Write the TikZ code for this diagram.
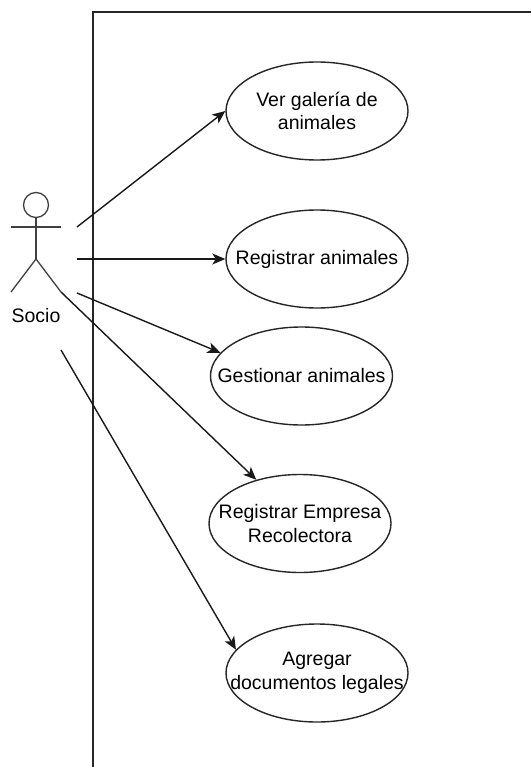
\documentclass[tikz,border=0pt]{standalone}
\usepackage{fontspec}
\setmainfont{Liberation Sans}
\usetikzlibrary{shapes.geometric,arrows.meta}
\begin{document}
\begin{tikzpicture}[x=1pt,y=-1pt,
  usecase/.style={ellipse,draw=black!85,line width=1.4pt,minimum width=182pt,minimum height=98pt,inner xsep=-30pt,inner ysep=0pt,align=center,font=\fontsize{19.5}{23.4}\selectfont},
  assoc/.style={draw=black!90,line width=1.4pt,-{Stealth[length=13pt,width=11pt,inset=3.5pt]}},
  actorline/.style={draw=black!75,line width=1.3pt},
  frame/.style={draw=black!85,line width=2pt}]
\useasboundingbox (0,0) rectangle (531,767);
% system boundary
\draw[frame] (93,767) -- (93,12) -- (531,12);
% actor
\draw[actorline] (36,205) circle (12.5pt);
\draw[actorline] (36,217.5) -- (36,259);
\draw[actorline] (11,227) -- (61,227);
\draw[actorline] (11,292) -- (36,259) -- (61,292);
\node[font=\fontsize{19.5}{23.4}\selectfont] (socio) at (36,316) {Socio};
\coordinate (s1) at (77,227);
\coordinate (s2) at (77,259);
\coordinate (s3) at (77,293);
\coordinate (s4) at (61,292);
\coordinate (s5) at (61,350);
% use cases
\node[usecase] (uc1) at (317,111) {Ver galería de\\animales};
\node[usecase] (uc2) at (317,259) {Registrar animales};
\node[usecase] (uc3) at (301.5,376) {Gestionar animales};
\node[usecase] (uc4) at (300,523.5) {Registrar Empresa\\Recolectora};
\node[usecase] (uc5) at (317,673) {Agregar\\documentos legales};
% associations
\draw[assoc] (s1) -- (uc1.west);
\draw[assoc] (s2) -- (uc2.west);
\draw[assoc] (s3) -- (uc3.164);
\draw[assoc] (s4) -- (uc4.135);
\draw[assoc] (s5) -- (uc5.164);
\end{tikzpicture}
\end{document}
